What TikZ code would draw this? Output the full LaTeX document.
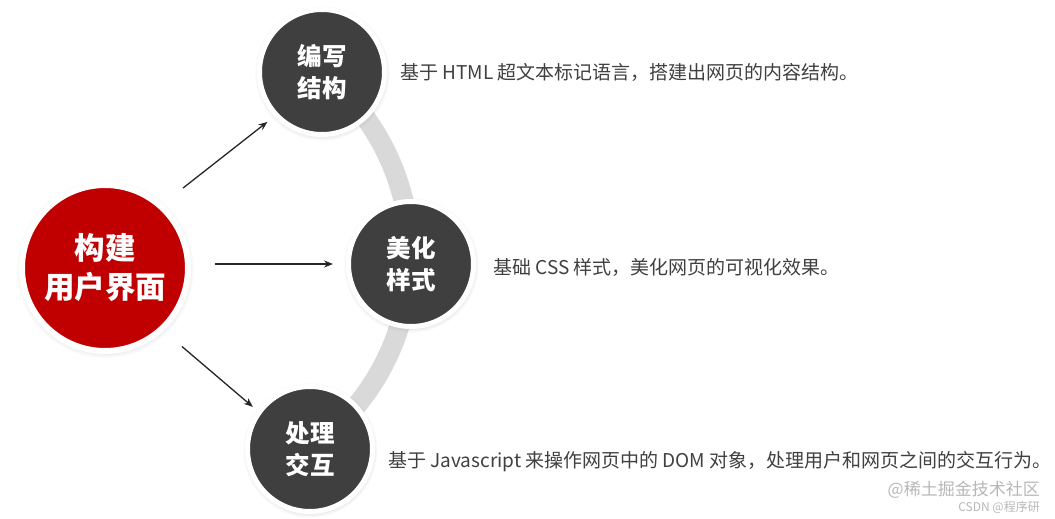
\documentclass[tikz,border=0pt]{standalone}
\usepackage{fontspec}
\setmainfont{Noto Sans CJK SC}
\usetikzlibrary{positioning,arrows.meta,backgrounds,shadows,calc}
\definecolor{uired}{HTML}{C00000}
\definecolor{stagegray}{HTML}{3F3F3F}
\definecolor{txtgray}{HTML}{404040}
\definecolor{bandgray}{HTML}{D9D9D9}
\tikzset{
  hub/.style   = {circle, fill=uired, draw=white, line width=6pt,
                  minimum size=166pt, text=white, align=center,
                  font=\fontsize{30.5}{39}\selectfont\bfseries,
                  circular drop shadow={shadow xshift=0pt, shadow yshift=-1pt,
                                        shadow scale=1.07, opacity=.35}},
  stage/.style = {circle, fill=stagegray, draw=white, line width=5pt,
                  minimum size=125pt, text=white, align=center,
                  font=\fontsize{24.5}{32}\selectfont\bfseries,
                  circular drop shadow={shadow xshift=0pt, shadow yshift=-1pt,
                                        shadow scale=1.08, opacity=.35}},
  desc/.style  = {anchor=west, text=txtgray, inner sep=0pt,
                  font=\fontsize{19}{22}\selectfont},
  wmark/.style = {anchor=east, inner sep=0pt, text=black!35, opacity=.8},
  flow/.style  = {-{Stealth[length=9pt,width=7pt]}, line width=1.3pt, black!85},
  band/.style  = {line width=20pt, bandgray},
}
\begin{document}
\begin{tikzpicture}[x=1pt, y=-1pt]
  \useasboundingbox (0,0) rectangle (1055,519);

  \node[hub] (main) at (105,268) {构建\\用户界面};
  \node[stage] (c1) at (322,72)  {编写\\结构};
  \node[stage] (c2) at (411,264) {美化\\样式};
  \node[stage] (c3) at (310,449) {处理\\交互};

  \node[desc, right=13pt of c1] (d1)
       {基于 HTML 超文本标记语言，搭建出网页的内容结构。};
  \node[desc, right=17pt of c2, yshift=-3pt] (d2)
       {基础 CSS 样式，美化网页的可视化效果。};
  \node[desc, right=13pt of c3, yshift=-13pt] (d3)
       {基于 Javascript 来操作网页中的 DOM 对象，处理用户和网页之间的交互行为。};

  \draw[flow, shorten <=26pt, shorten >=9pt] (main.48) -- (c1.223);
  \draw[flow, shorten <=24pt, shorten >=13pt] (main.east |- c2.west) -- (c2.west);
  \draw[flow, shorten <=24pt, shorten >=6pt] (main.-47) -- (c3.144);

  \begin{scope}[on background layer]
    \fill[white] (0,0) rectangle (1055,519);
    \draw[band] (c1.center) arc[start angle=-51.2, end angle=54.8, radius=236];
  \end{scope}

  \node[wmark, font=\fontsize{17}{19}\selectfont] (wm1) at (1040,490) {@稀土掘金技术社区};
  \node[wmark, font=\fontsize{12}{14}\selectfont, below=2pt of wm1.south east, anchor=north east] (wm2) {CSDN @程序研};
\end{tikzpicture}
\end{document}
